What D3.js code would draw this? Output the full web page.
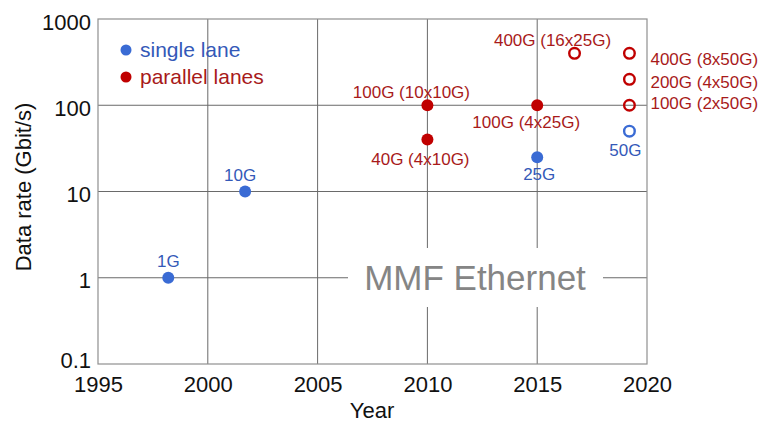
<!DOCTYPE html>
<html>
<head>
<meta charset="utf-8">
<script src="https://cdn.jsdelivr.net/npm/d3@7/dist/d3.min.js"></script>
<style>
  html, body { margin: 0; padding: 0; background: #fff; }
  svg { display: block; font-family: "Liberation Sans", Arial, sans-serif; }
</style>
</head>
<body>
<svg id="chart" width="762" height="422"></svg>
<script>
// Multimode-fibre Ethernet data rates by year of introduction
const singleYears  = [1998.2, 2001.7, 2015, 2019.2];
const singleRates  = [1, 10, 25, 50];
const singleLabels = ["1G", "10G", "25G", "50G"];
const singleOpen   = [false, false, false, true];

const parallelYears  = [2010, 2010, 2015, 2016.7, 2019.2, 2019.2, 2019.2];
const parallelRates  = [100, 40, 100, 400, 400, 200, 100];
const parallelLabels = ["100G (10x10G)", "40G (4x10G)", "100G (4x25G)", "400G (16x25G)",
                        "400G (8x50G)", "200G (4x50G)", "100G (2x50G)"];
const parallelOpen   = [false, false, false, true, true, true, true];

const xTicks = [1995, 2000, 2005, 2010, 2015, 2020];
const yTicks = [0.1, 1, 10, 100, 1000];
const yTickLabels = ["0.1", "1", "10", "100", "1000"];

const legendNames = ["single lane", "parallel lanes"];

// Label placement relative to each marker: [dx, dy, anchor]
const labelPlacement = {
  "1G": [0, -11, "middle"],
  "10G": [-5, -11, "middle"],
  "25G": [2, 23, "middle"],
  "50G": [-4, 25, "middle"],
  "100G (10x10G)": [-16, -7, "middle"],
  "40G (4x10G)": [-7, 25, "middle"],
  "100G (4x25G)": [-11, 23, "middle"],
  "400G (16x25G)": [-22, -7, "middle"],
  "400G (8x50G)": [21, 12, "start"],
  "200G (4x50G)": [21, 9, "start"],
  "100G (2x50G)": [21, 4, "start"]
};

const blue = "#3a6bd4", blueText = "#3459b8";
const red = "#c00000", redText = "#a81a1a";

const svg = d3.select("#chart");
const plotLeft = 98, plotRight = 647, plotTop = 19, plotBottom = 364;

const x = d3.scaleLinear().domain([1995, 2020]).range([plotLeft, plotRight]);
const y = d3.scaleLog().domain([0.1, 1000]).range([plotBottom, plotTop]);

// Grid
const grid = svg.append("g");
grid.selectAll("line.v").data(xTicks.slice(1, -1)).join("line")
  .attr("class", "v")
  .attr("x1", d => x(d)).attr("x2", d => x(d))
  .attr("y1", plotTop).attr("y2", plotBottom)
  .attr("stroke", "#6a6a6a").attr("stroke-width", 1);
grid.selectAll("line.h").data(yTicks.slice(1, -1)).join("line")
  .attr("class", "h")
  .attr("x1", plotLeft).attr("x2", plotRight)
  .attr("y1", d => y(d)).attr("y2", d => y(d))
  .attr("stroke", "#6a6a6a").attr("stroke-width", 1);

// Watermark title with white backing
svg.append("rect").attr("x", 348).attr("y", 248).attr("width", 255).attr("height", 59).attr("fill", "#fff");
svg.append("text").attr("x", 475).attr("y", 290).attr("text-anchor", "middle")
  .attr("font-size", 35).attr("fill", "#858585").text("MMF Ethernet");

// Frame
svg.append("rect").attr("x", plotLeft).attr("y", plotTop)
  .attr("width", plotRight - plotLeft).attr("height", plotBottom - plotTop)
  .attr("fill", "none").attr("stroke", "#8f8f8f").attr("stroke-width", 1.2);

// Axes tick labels
const xAxis = d3.axisBottom(x).tickValues(xTicks).tickFormat(d3.format("d")).tickSize(0).tickPadding(0);
const gx = svg.append("g").attr("transform", `translate(0,${plotBottom})`).call(xAxis);
gx.select(".domain").remove();
gx.selectAll("text").attr("font-size", 22).attr("fill", "#111")
  .attr("font-family", "Liberation Sans, Arial, sans-serif")
  .attr("dy", null).attr("y", 28);

const yAxis = d3.axisLeft(y).tickValues(yTicks).tickFormat((d, i) => yTickLabels[i]).tickSize(0).tickPadding(7);
const gy = svg.append("g").attr("transform", `translate(${plotLeft},0)`).call(yAxis);
gy.select(".domain").remove();
gy.selectAll("text").attr("font-size", 22).attr("fill", "#111")
  .attr("font-family", "Liberation Sans, Arial, sans-serif")
  .attr("dy", null).attr("y", d => d === 0.1 ? 3 : 10);

// Axis titles
svg.append("text").attr("x", 372).attr("y", 418).attr("text-anchor", "middle")
  .attr("font-size", 22).attr("fill", "#111").text("Year");
svg.append("text").attr("transform", "translate(31,187) rotate(-90)").attr("text-anchor", "middle")
  .attr("font-size", 22).attr("fill", "#111").text("Data rate (Gbit/s)");

// Series
function drawSeries(years, rates, labels, open, color, textColor) {
  const data = years.map((yr, i) => ({ yr, rate: rates[i], label: labels[i], open: open[i] }));
  const g = svg.append("g");
  g.selectAll("circle").data(data).join("circle")
    .attr("cx", d => x(d.yr)).attr("cy", d => y(d.rate))
    .attr("r", d => d.open ? 5.3 : 6)
    .attr("fill", d => d.open ? "none" : color)
    .attr("stroke", d => d.open ? color : "none")
    .attr("stroke-width", 2.4);
  g.selectAll("text").data(data).join("text")
    .attr("x", d => x(d.yr) + labelPlacement[d.label][0])
    .attr("y", d => y(d.rate) + labelPlacement[d.label][1])
    .attr("text-anchor", d => labelPlacement[d.label][2])
    .attr("font-size", 17).attr("fill", textColor)
    .text(d => d.label);
}
drawSeries(singleYears, singleRates, singleLabels, singleOpen, blue, blueText);
drawSeries(parallelYears, parallelRates, parallelLabels, parallelOpen, red, redText);

// Legend
const legendColors = [[blue, blueText], [red, redText]];
const lg = svg.append("g");
legendNames.forEach((name, i) => {
  const cy = 50 + i * 27;
  lg.append("circle").attr("cx", 126).attr("cy", cy).attr("r", 5.5).attr("fill", legendColors[i][0]);
  lg.append("text").attr("x", 140).attr("y", cy + 7).attr("font-size", 21)
    .attr("fill", legendColors[i][1]).text(name);
});
</script>
</body>
</html>
